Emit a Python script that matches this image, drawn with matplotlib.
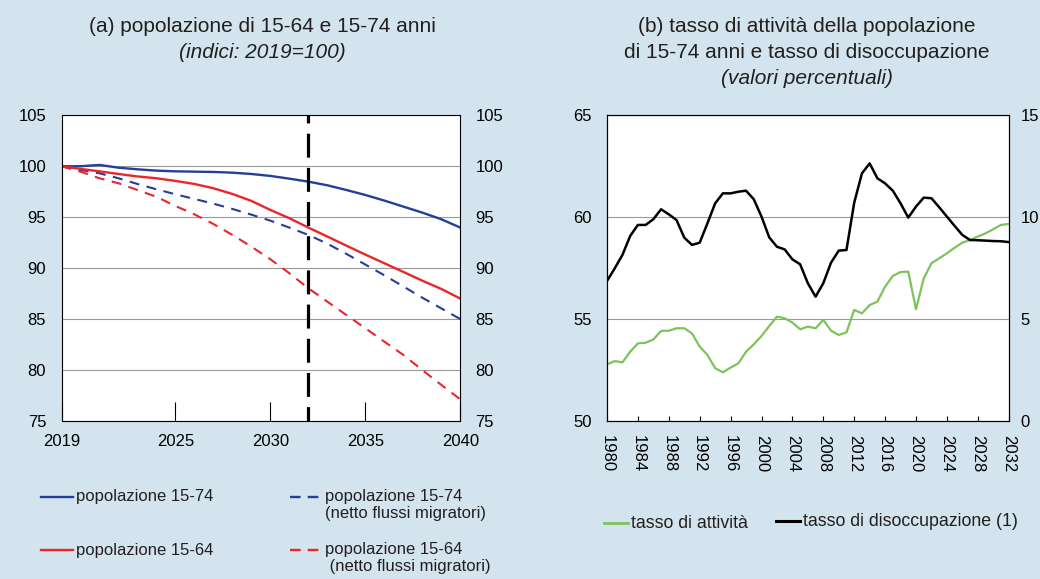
import numpy as np
import matplotlib
matplotlib.use('Agg')
import matplotlib.pyplot as plt
from matplotlib.lines import Line2D

plt.rcParams['font.family'] = ['Liberation Sans', 'DejaVu Sans']
plt.rcParams['text.color'] = '#231f20'

# --- dati pannello (a): indici 2019=100
anni_a = list(range(2019, 2041))
pop_1574 = [100, 100, 100.13, 99.86, 99.7, 99.57, 99.5, 99.47, 99.44, 99.37, 99.24,
            99.05, 98.78, 98.49, 98.13, 97.67, 97.18, 96.63, 96.04, 95.45, 94.8, 93.98]
pop_1564 = [100, 99.74, 99.5, 99.24, 99.0, 98.82, 98.56, 98.26, 97.84, 97.28, 96.6,
            95.71, 94.9, 93.98, 93.1, 92.21, 91.33, 90.48, 89.63, 88.77, 87.96, 87.01]
pop_1574_netto = [100, 99.64, 99.31, 98.82, 98.26, 97.74, 97.25, 96.79, 96.33, 95.81, 95.25,
                  94.66, 93.98, 93.26, 92.4, 91.4, 90.35, 89.3, 88.2, 87.1, 86.05, 85.0]
pop_1564_netto = [100, 99.47, 98.82, 98.33, 97.67, 97.0, 96.1, 95.28, 94.33, 93.26, 92.11,
                  90.87, 89.5, 88.02, 86.71, 85.4, 84.1, 82.79, 81.48, 80.0, 78.54, 77.13]
anno_vert = 2032

# --- dati pannello (b): valori percentuali
anni_b = list(range(1980, 2033))
tasso_attivita = [52.78, 52.94, 52.88, 53.4, 53.81, 53.84, 54.0, 54.42, 54.43, 54.55,
                  54.55, 54.3, 53.65, 53.24, 52.59, 52.39, 52.62, 52.83, 53.4, 53.76,
                  54.17, 54.66, 55.12, 55.04, 54.83, 54.5, 54.63, 54.55, 54.96, 54.43,
                  54.22, 54.35, 55.45, 55.28, 55.69, 55.86, 56.59, 57.12, 57.31, 57.33,
                  55.48, 57.0, 57.74, 57.98, 58.23, 58.5, 58.75, 58.88, 59.05, 59.21,
                  59.41, 59.62, 59.67]
tasso_disocc = [6.87, 7.49, 8.15, 9.08, 9.62, 9.62, 9.9, 10.39, 10.14, 9.86,
                9.0, 8.64, 8.75, 9.7, 10.68, 11.17, 11.17, 11.25, 11.3, 10.88,
                10.03, 9.01, 8.55, 8.42, 7.93, 7.69, 6.76, 6.1, 6.76, 7.77,
                8.36, 8.39, 10.71, 12.15, 12.64, 11.91, 11.66, 11.3, 10.68, 9.98,
                10.52, 10.96, 10.93, 10.49, 10.03, 9.57, 9.13, 8.88, 8.87, 8.85,
                8.83, 8.82, 8.78]

BG = '#d3e4ee'
BLU = '#243f97'
ROSSO = '#e8262b'
VERDE = '#7cc35b'
FS = 12
FT = 15  # titoli

fig = plt.figure(figsize=(10.4, 5.79), dpi=100, facecolor=BG)
W, H = 1040, 579


def px_axes(l, t, r, b):
    return fig.add_axes([l / W, 1 - b / H, (r - l) / W, (b - t) / H])


# ---------------- pannello (a)
ax = px_axes(61.5, 115.3, 460.3, 421)
ax.plot(anni_a, pop_1574, color=BLU, lw=1.7)
ax.plot(anni_a, pop_1574_netto, color=BLU, lw=1.5, ls=(0, (4.8, 3.6)))
ax.plot(anni_a, pop_1564, color=ROSSO, lw=1.7)
ax.plot(anni_a, pop_1564_netto, color=ROSSO, lw=1.5, ls=(0, (4.8, 3.6)))
ax.axvline(anno_vert, color='black', lw=2.3, ls=(3, (7.5, 3.2)))
ax.set_xlim(2019, 2040)
ax.set_ylim(75, 105)
ax.set_yticks(range(75, 106, 5))
ax.set_xticks([2019, 2025, 2030, 2035, 2040])
ax.grid(axis='y', color='#9a9a9a', lw=0.8)
ax.set_axisbelow(True)
ax.tick_params(axis='x', direction='in', length=14, width=0.8, pad=9, labelsize=FS)
ax.tick_params(axis='y', length=0, pad=11, labelsize=FS, labelright=True, right=False)
for s in ax.spines.values():
    s.set_linewidth(0.8)

fig.text(262 / W, 1 - 26 / H, '(a) popolazione di 15-64 e 15-74 anni',
         ha='center', va='center', fontsize=FT)
fig.text(262 / W, 1 - 52 / H, '(indici: 2019=100)', ha='center', va='center',
         fontsize=FT, style='italic')

# ---------------- pannello (b)
bx = px_axes(607, 115.3, 1008.7, 421)
bx.plot(anni_b, tasso_attivita, color=VERDE, lw=1.6, zorder=3)
bx.set_xlim(1980, 2032)
bx.set_ylim(50, 65)
bx.set_yticks(range(50, 66, 5))
bx.set_xticks(range(1980, 2033, 4))
bx.set_xticklabels([str(a) for a in range(1980, 2033, 4)], rotation=-90)
bx.grid(axis='y', color='#9a9a9a', lw=0.8)
bx.set_axisbelow(True)
bx.tick_params(axis='x', direction='in', length=3.5, width=0.8, pad=10, labelsize=FS)
bx.tick_params(axis='y', length=0, pad=11, labelsize=FS)
bx2 = bx.twinx()
bx2.plot(anni_b, tasso_disocc, color='black', lw=1.8, zorder=4)
bx2.set_ylim(0, 15)
bx2.set_yticks(range(0, 16, 5))
bx2.tick_params(axis='y', length=0, pad=8.5, labelsize=FS)
for a in (bx, bx2):
    for s in a.spines.values():
        s.set_linewidth(0.8)

fig.text(807 / W, 1 - 26 / H, '(b) tasso di attività della popolazione',
         ha='center', va='center', fontsize=FT)
fig.text(807 / W, 1 - 52 / H, 'di 15-74 anni e tasso di disoccupazione',
         ha='center', va='center', fontsize=FT)
fig.text(807 / W, 1 - 78 / H, '(valori percentuali)', ha='center', va='center',
         fontsize=FT, style='italic')


# ---------------- legende
def voce(x0, x1, y, col, lw, testo, fs=FS):
    fig.add_artist(Line2D([x0 / W, x1 / W], [1 - y / H, 1 - y / H], color=col, lw=lw))
    fig.text((x1 + 3) / W, 1 - y / H, testo, ha='left', va='center', fontsize=fs)


voce(41, 73, 497, BLU, 1.7, 'popolazione 15-74')
voce(41, 73, 550, ROSSO, 1.7, 'popolazione 15-64')
fig.add_artist(Line2D([290 / W, 325 / W], [1 - 497 / H] * 2, color=BLU, lw=1.7, ls=(0, (4.5, 3))))
fig.add_artist(Line2D([290 / W, 325 / W], [1 - 550 / H] * 2, color=ROSSO, lw=1.7, ls=(0, (4.5, 3))))
fig.text(325 / W, 1 - 489 / H, 'popolazione 15-74\n(netto flussi migratori)', ha='left',
         va='top', fontsize=FS, linespacing=1.15)
fig.text(325 / W, 1 - 542 / H, 'popolazione 15-64\n (netto flussi migratori)', ha='left',
         va='top', fontsize=FS, linespacing=1.15)
voce(604, 628, 523, VERDE, 2, 'tasso di attività', fs=12.8)
voce(776, 800, 521, 'black', 2.2, 'tasso di disoccupazione (1)', fs=12.8)

fig.savefig('out.png', dpi=100, facecolor=BG)
